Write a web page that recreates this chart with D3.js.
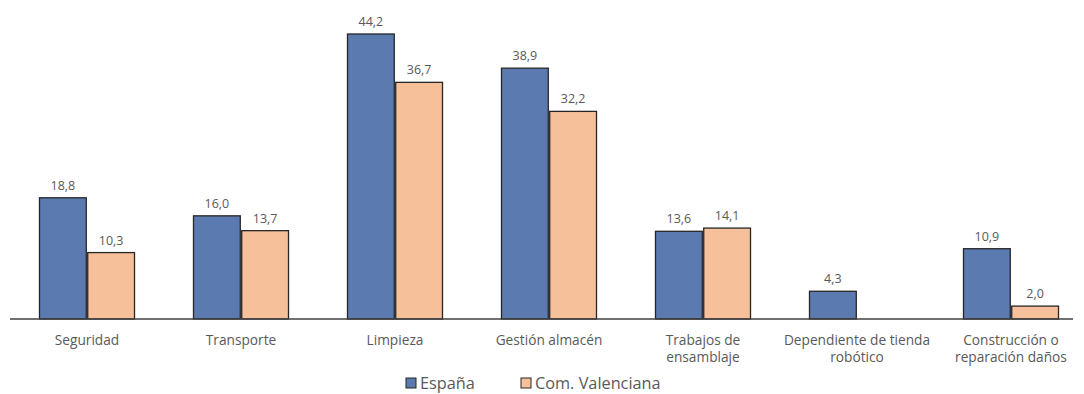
<!DOCTYPE html>
<html>
<head>
<meta charset="utf-8">
<script src="https://cdn.jsdelivr.net/npm/d3@7"></script>
<style>
  body { margin: 0; background: #fff; }
  svg text { font-family: "Open Sans", "Noto Sans", sans-serif; fill: #595959; }
</style>
</head>
<body>
<div id="chart"></div>
<script>
// Categories and series
const categories = [
  ["Seguridad"],
  ["Transporte"],
  ["Limpieza"],
  ["Gestión almacén"],
  ["Trabajos de", "ensamblaje"],
  ["Dependiente de tienda", "robótico"],
  ["Construcción o", "reparación daños"]
]
const seriesNames = ["España", "Com. Valenciana"]
const espana = [18.8, 16.0, 44.2, 38.9, 13.6, 4.3, 10.9]
const valenciana = [10.3, 13.7, 36.7, 32.2, 14.1, null, 2.0]
const colors = ["#5b7bb0", "#f6c09a"]

const W = 1084, H = 394
const base = 319

const svg = d3.select("#chart").append("svg")
  .attr("width", W).attr("height", H)

const x = d3.scaleBand()
  .domain(d3.range(categories.length))
  .range([10, 1088])
  .paddingInner(0.383)
  .paddingOuter(0.1915)

const inner = d3.scaleBand()
  .domain([0, 1])
  .range([0, x.bandwidth()])
  .paddingInner(0.03)

const y = d3.scaleLinear()
  .domain([0, d3.max(espana)])
  .range([base, 34])

const fmt = v => d3.format(".1f")(v).replace(".", ",")

const rows = []
categories.forEach((c, i) => {
  ;[espana[i], valenciana[i]].forEach((v, s) => {
    if (v != null) rows.push({ i, s, v })
  })
})

// Bars
svg.selectAll("rect.bar")
  .data(rows)
  .enter()
  .append("rect")
  .attr("class", "bar")
  .attr("x", d => x(d.i) + inner(d.s))
  .attr("width", inner.bandwidth())
  .attr("y", d => y(d.v))
  .attr("height", d => base - y(d.v))
  .attr("fill", d => colors[d.s])
  .attr("stroke", "#262626")
  .attr("stroke-width", 1.3)

// Value labels
svg.selectAll("text.val")
  .data(rows)
  .enter()
  .append("text")
  .attr("class", "val")
  .attr("x", d => x(d.i) + inner(d.s) + inner.bandwidth() / 2)
  .attr("y", d => y(d.v) - 8)
  .attr("text-anchor", "middle")
  .style("font-size", "12.5px")
  .text(d => fmt(d.v))

// Baseline axis
svg.append("line")
  .attr("x1", 10).attr("x2", 1073)
  .attr("y1", base).attr("y2", base)
  .attr("stroke", "#404040")
  .attr("stroke-width", 1.3)

// Category labels
const cat = svg.selectAll("text.cat")
  .data(categories)
  .enter()
  .append("text")
  .attr("class", "cat")
  .attr("text-anchor", "middle")
  .style("font-size", "13.7px")

cat.selectAll("tspan")
  .data((d, i) => d.map(line => ({ line, i })))
  .enter()
  .append("tspan")
  .attr("x", d => x(d.i) + x.bandwidth() / 2)
  .attr("y", (d, j) => 345 + j * 17)
  .text(d => d.line)

// Legend
const legendX = [406, 521]
seriesNames.forEach((name, s) => {
  svg.append("rect")
    .attr("x", legendX[s]).attr("y", 378)
    .attr("width", 10).attr("height", 10)
    .attr("fill", colors[s])
    .attr("stroke", "#262626")
    .attr("stroke-width", 1)
  svg.append("text")
    .attr("x", legendX[s] + 14).attr("y", 389)
    .style("font-size", "16.3px")
    .text(name)
})
</script>
</body>
</html>
